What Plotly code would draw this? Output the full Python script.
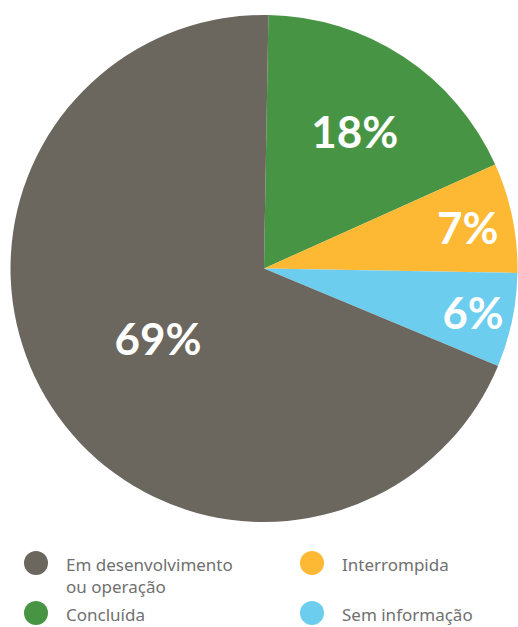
import plotly.graph_objects as go

labels = ["Concluída", "Interrompida", "Sem informação", "Em desenvolvimento<br>ou operação"]
values = [18, 7, 6, 69]
colors = ["#479544", "#fdb933", "#6dcdef", "#6b675e"]

legend_order = [3, 1, 0, 2]  # row-major: gray, yellow / green, blue

W, H = 518, 627
fig = go.Figure()
fig.add_trace(go.Pie(
    labels=labels, values=values, sort=False, direction="clockwise", rotation=1,
    marker=dict(colors=colors, line=dict(width=0)),
    texttemplate="%{percent:.0%}", textinfo="percent", textposition="inside",
    insidetextorientation="horizontal",
    textfont=dict(family="Lato", size=44, color="white", weight="bold"),
    domain=dict(x=[10 / W, 1.0], y=[1 - 522 / H, 1 - 15 / H]),
    showlegend=False, hoverinfo="label+percent",
))

col_x = [24 / W, 300 / W]
row_y = [1 - 563 / H, 1 - 613 / H]
shapes, annotations = [], []
for k, idx in enumerate(legend_order):
    r, c = divmod(k, 2)
    cx, cy = col_x[c], row_y[r]
    shapes.append(dict(type="circle", xref="paper", yref="paper",
                       x0=cx, x1=cx + 24 / W, y0=cy - 12 / H, y1=cy + 12 / H,
                       fillcolor=colors[idx], line=dict(width=0)))
    annotations.append(dict(xref="paper", yref="paper", x=cx + 40 / W, y=cy + 12 / H,
                            xanchor="left", yanchor="top", align="left", showarrow=False,
                            text=labels[idx],
                            font=dict(family="Noto Sans", size=17, color="#707070")))

fig.update_layout(width=W, height=H, margin=dict(l=0, r=0, t=0, b=0),
                  paper_bgcolor="white", plot_bgcolor="white",
                  shapes=shapes, annotations=annotations)
fig.write_html("out.html", config={"displayModeBar": False},
               post_script="document.body.style.margin='0';document.body.style.overflow='hidden';")
